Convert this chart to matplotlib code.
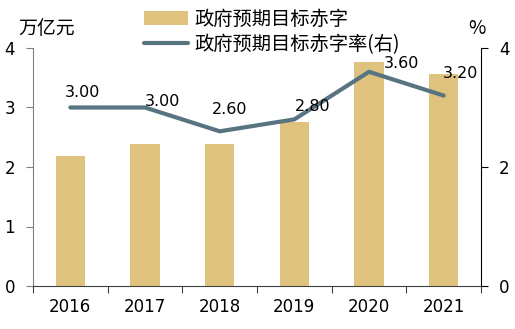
import matplotlib
matplotlib.use("Agg")
import matplotlib.pyplot as plt
import numpy as np

plt.rcParams["font.family"] = ["Noto Sans CJK SC", "DejaVu Sans"]

# data
years = ["2016", "2017", "2018", "2019", "2020", "2021"]
deficit = [2.18, 2.38, 2.38, 2.76, 3.76, 3.57]        # 万亿元
deficit_rate = [3.00, 3.00, 2.60, 2.80, 3.60, 3.20]   # %

bar_label = "政府预期目标赤字"
line_label = "政府预期目标赤字率(右)"

BAR_COLOR = "#dfc27d"
LINE_COLOR = "#587481"

# label nudges for the rate values (pixels)
label_offsets = [(12, 15), (18, 6), (10, 22), (18, 13), (33, 8), (17, 22)]

fig = plt.figure(figsize=(5.15, 3.29), dpi=100)
ax = fig.add_axes([33 / 515, 1 - 286 / 329, 448 / 515, 238 / 329])
ax2 = ax.twinx()

x = np.arange(len(years))
bars = ax.bar(x, deficit, width=0.39, color=BAR_COLOR, label=bar_label, zorder=2)
line, = ax2.plot(x, deficit_rate, color=LINE_COLOR, lw=3, label=line_label,
                 solid_capstyle="round", zorder=3)

for xi, v, (dx, dy) in zip(x, deficit_rate, label_offsets):
    ax2.annotate(f"{v:.2f}", (xi, v), xytext=(dx, dy), textcoords="offset pixels",
                 ha="center", va="center", fontsize=11.5, family="DejaVu Sans")

ax.set_xlim(-0.5, len(years) - 0.5)
ax.set_ylim(0, 4)
ax2.set_ylim(0, 4)
ax2.set_zorder(ax.get_zorder() + 1)
ax2.patch.set_visible(False)

# category boundaries as ticks, year names centred between them
ax.set_xticks(np.arange(len(years) + 1) - 0.5)
ax.set_xticklabels([])
ax.set_xticks(x, minor=True)
ax.set_xticklabels(years, minor=True, fontsize=12, family="DejaVu Sans")
ax.tick_params(axis="x", which="minor", length=0, pad=9)
ax.tick_params(axis="x", which="major", length=5, color="#404040", direction="out")

ax.set_yticks([0, 1, 2, 3, 4])
ax.set_yticklabels(["0", "1", "2", "3", "4"], fontsize=12, family="DejaVu Sans")
ax.tick_params(axis="y", length=5, color="#808080", pad=8)
ax2.set_yticks([0, 2, 4])
ax2.set_yticklabels(["0", "2", "4"], fontsize=12, family="DejaVu Sans")
ax2.tick_params(axis="y", length=5, color="black", pad=8)

for a in (ax, ax2):
    a.spines["top"].set_visible(False)
ax.spines["left"].set_color("#808080")
ax.spines["bottom"].set_color("#404040")
ax.spines["right"].set_visible(False)
ax2.spines["left"].set_visible(False)
ax2.spines["bottom"].set_visible(False)
ax2.spines["right"].set_color("black")

fig.text(18 / 515, 1 - 29 / 329, "万亿元", fontsize=13.6, va="center", ha="left")
fig.text(477 / 515, 1 - 29 / 329, "%", fontsize=13.6, va="center", ha="center")

fig.legend(handles=[bars, line], labels=[bar_label, line_label],
           loc="upper left", bbox_to_anchor=(136 / 515, 0.997), frameon=False,
           fontsize=13.9, handlelength=2.3, handletextpad=0.3, labelspacing=0.22,
           borderaxespad=0)

fig.savefig("out.png", dpi=100)
